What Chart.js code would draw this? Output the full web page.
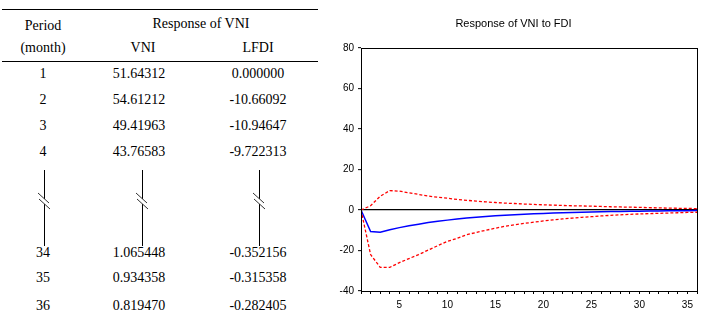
<!DOCTYPE html>
<html>
<head>
<meta charset="utf-8">
<script src="https://cdn.jsdelivr.net/npm/chart.js@4/dist/chart.umd.min.js"></script>
<style>
  html, body { margin: 0; padding: 0; background: #fff; }
  #page { position: relative; width: 707px; height: 327px; overflow: hidden; background: #fff; }
  .t { position: absolute; font-family: "Liberation Serif", "Times New Roman", serif; font-size: 14px;
       color: #000; white-space: nowrap; transform: translate(-50%, -50%); line-height: 1; }
  .rule { position: absolute; left: 2px; width: 316px; height: 1px; background: #000; }
  #chartBox { position: absolute; left: 330px; top: 0; width: 377px; height: 327px; }
</style>
</head>
<body>
<div id="page">
  <div class="rule" style="top:9px"></div>
  <div class="rule" style="top:61px"></div>
  <div class="t" style="left:43px;top:26px">Period</div>
  <div class="t" style="left:43px;top:48px">(month)</div>
  <div class="t" style="left:201px;top:24px">Response of VNI</div>
  <div class="t" style="left:143px;top:48px">VNI</div>
  <div class="t" style="left:258px;top:48px">LFDI</div>
  <div id="rows"></div>
  <svg id="breaks" width="330" height="327" style="position:absolute;left:0;top:0"></svg>
  <div id="chartBox"><canvas id="irf" width="377" height="327"></canvas></div>
</div>
<script>
// table values (rows 1-4 and 34-36)
const tablePeriods = ["1", "2", "3", "4", "34", "35", "36"];
const tableVNI = ["51.64312", "54.61212", "49.41963", "43.76583", "1.065448", "0.934358", "0.819470"];
const tableLFDI = ["0.000000", "-10.66092", "-10.94647", "-9.722313", "-0.352156", "-0.315358", "-0.282405"];

// chart: response of VNI to FDI, periods 1..36
const periods = [1, 2, 3, 4, 5, 6, 7, 8, 9, 10, 11, 12, 13, 14, 15, 16, 17, 18,
  19, 20, 21, 22, 23, 24, 25, 26, 27, 28, 29, 30, 31, 32, 33, 34, 35, 36];
const response = [0, -10.66, -10.95, -9.72, -8.7, -7.8, -7.0, -6.2, -5.6, -5.0, -4.5, -4.0,
  -3.6, -3.2, -2.9, -2.6, -2.3, -2.1, -1.9, -1.7, -1.5, -1.35, -1.2, -1.08,
  -0.97, -0.87, -0.78, -0.70, -0.62, -0.56, -0.50, -0.44, -0.39, -0.352, -0.315, -0.282];
const upperBand = [0, 2.1, 6.8, 9.6, 9.3, 8.5, 7.7, 6.9, 6.3, 5.8, 5.2, 4.8,
  4.4, 4.0, 3.7, 3.4, 3.2, 2.95, 2.75, 2.55, 2.4, 2.25, 2.1, 2.0,
  1.9, 1.75, 1.6, 1.5, 1.4, 1.3, 1.15, 1.05, 0.95, 0.85, 0.78, 0.7];
const lowerBand = [0, -22.0, -28.3, -28.3, -26.0, -24.0, -22.0, -19.8, -17.6, -15.5, -14.0, -12.2,
  -11.1, -10.0, -9.0, -8.0, -7.3, -6.6, -6.0, -5.4, -4.9, -4.4, -4.0, -3.6,
  -3.3, -2.95, -2.65, -2.4, -2.15, -1.95, -1.8, -1.65, -1.5, -1.35, -1.2, -1.1];
const yTicks = { min: -40, max: 80, step: 20 };

// table rows
const rowY = [74, 100, 126, 152, 253, 278, 306];
const rowsEl = document.getElementById("rows");
tablePeriods.forEach((p, i) => {
  [[43, p], [139, tableVNI[i]], [258, tableLFDI[i]]].forEach(([x, txt]) => {
    const d = document.createElement("div");
    d.className = "t";
    d.style.left = x + "px";
    d.style.top = rowY[i] + "px";
    d.textContent = txt;
    rowsEl.appendChild(d);
  });
});

// break marks between row 4 and row 34
const svg = document.getElementById("breaks");
let marks = "";
[44, 142, 259].forEach(x => {
  marks += `<line x1="${x + 0.5}" y1="170" x2="${x + 0.5}" y2="199" stroke="#000" stroke-width="1"/>`;
  marks += `<line x1="${x + 0.5}" y1="204" x2="${x + 0.5}" y2="246" stroke="#000" stroke-width="1"/>`;
  marks += `<line x1="${x - 6}" y1="193" x2="${x + 5}" y2="203" stroke="#333" stroke-width="1"/>`;
  marks += `<line x1="${x - 5}" y1="199" x2="${x + 6}" y2="209" stroke="#333" stroke-width="1"/>`;
});
svg.innerHTML = marks;

const sansFamily = "'Liberation Sans', Arial, sans-serif";
const axisFont = { family: sansFamily, size: 10 };

// closes the plot box on top and right
const frame = {
  id: "frame",
  afterDatasetsDraw(chart) {
    const a = chart.chartArea, ctx = chart.ctx;
    ctx.save();
    ctx.strokeStyle = "#000";
    ctx.lineWidth = 1;
    ctx.strokeRect(Math.round(a.left) + 0.5, Math.round(a.top) + 0.5,
      Math.round(a.right - a.left), Math.round(a.bottom - a.top));
    ctx.restore();
  }
};

const pts = arr => arr.map((v, i) => ({ x: periods[i], y: v }));

new Chart(document.getElementById("irf").getContext("2d"), {
  type: "line",
  data: {
    datasets: [
      { label: "+2 S.E.", data: pts(upperBand), borderColor: "#ff0000", borderWidth: 1.3,
        borderDash: [3, 2], pointRadius: 0, fill: false, tension: 0 },
      { label: "-2 S.E.", data: pts(lowerBand), borderColor: "#ff0000", borderWidth: 1.3,
        borderDash: [3, 2], pointRadius: 0, fill: false, tension: 0 },
      { label: "Response", data: pts(response), borderColor: "#0000ff", borderWidth: 1.5,
        pointRadius: 0, fill: false, tension: 0 }
    ]
  },
  options: {
    responsive: false,
    animation: false,
    layout: { padding: { left: 0, right: 10, top: 0, bottom: 0 } },
    plugins: {
      legend: { display: false },
      tooltip: { enabled: false },
      title: {
        display: true,
        text: "Response of VNI to FDI",
        color: "#000",
        font: { family: sansFamily, size: 11, weight: "normal" },
        padding: { top: 17, bottom: 17.8 }
      }
    },
    scales: {
      x: {
        type: "linear",
        min: 1,
        max: 36,
        afterFit(scale) { scale.height = 36; },
        ticks: {
          stepSize: 1,
          autoSkip: false,
          maxRotation: 0,
          padding: 5,
          color: "#000",
          font: axisFont,
          callback: v => (v % 5 === 0 ? String(v) : "")
        },
        grid: { drawOnChartArea: false, tickLength: 3, tickColor: "#000", color: "#000" },
        border: { display: true, color: "#000", width: 1 }
      },
      y: {
        min: yTicks.min,
        max: yTicks.max,
        afterFit(scale) { scale.width = 31; },
        ticks: { stepSize: yTicks.step, padding: 4, color: "#000", font: axisFont },
        grid: {
          color: c => (c.tick && c.tick.value === 0 ? "#000" : "rgba(0,0,0,0)"),
          lineWidth: 1.3,
          tickLength: 3,
          tickColor: "#000",
          tickWidth: 1
        },
        border: { display: true, color: "#000", width: 1 }
      }
    }
  },
  plugins: [frame]
});
</script>
</body>
</html>
